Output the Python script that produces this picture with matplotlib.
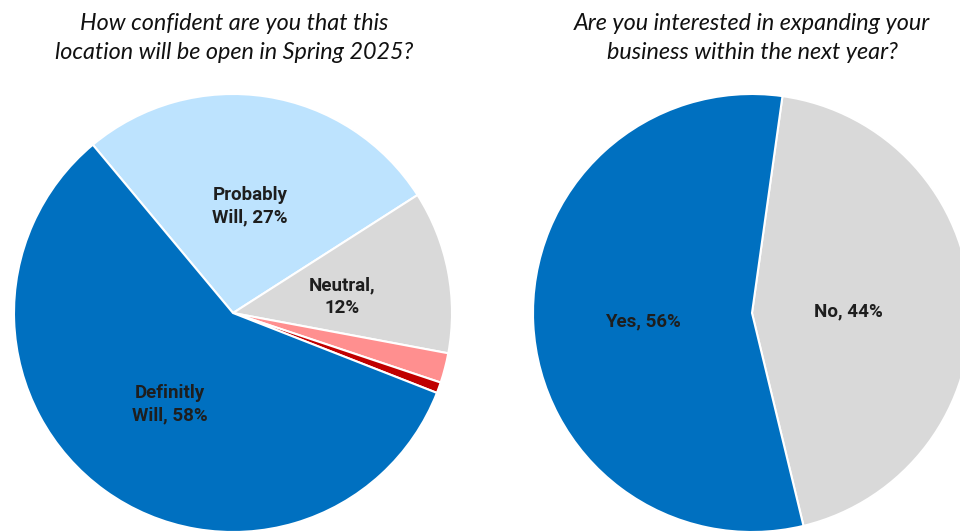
import matplotlib
matplotlib.use("Agg")
import matplotlib.pyplot as plt

# Survey question 1: confidence the location will be open
conf_labels = ["Probably\nWill, 27%", "Neutral,\n12%", "", "", "Definitly\nWill, 58%"]
conf_values = [27, 12, 2.2, 0.8, 58]
conf_colors = ["#BDE3FE", "#D9D9D9", "#FF8F8F", "#C00000", "#0070C0"]

# Survey question 2: interest in expanding
exp_labels = ["No, 44%", "Yes, 56%"]
exp_values = [44, 56]
exp_colors = ["#D9D9D9", "#0070C0"]

titles = ["How confident are you that this\nlocation will be open in Spring 2025?",
          "Are you interested in expanding your\nbusiness within the next year?"]

W, H = 960, 531
fig = plt.figure(figsize=(W / 100, H / 100), dpi=100)
ax = fig.add_axes([0, 0, 1, 1])

R = 219
c1 = (233, H - 313)
c2 = (752, H - 313)

wedge = dict(edgecolor="white", linewidth=1.5)
ax.pie(conf_values, colors=conf_colors, startangle=129.8, counterclock=False,
       center=c1, radius=R, wedgeprops=wedge, frame=True)
ax.pie(exp_values, colors=exp_colors, startangle=82, counterclock=False,
       center=c2, radius=R, wedgeprops=wedge, frame=True)
ax.set_xlim(0, W)
ax.set_ylim(0, H)
ax.set_aspect("equal")
ax.axis("off")

lab = dict(fontfamily="Roboto", fontweight="bold", fontsize=13.5, color="#1E1E1E",
           ha="center", va="center", linespacing=1.3)
label_pos1 = [(250, 206), (342, 297), None, None, (170, 404)]
for txt, pos in zip(conf_labels, label_pos1):
    if pos and txt:
        ax.text(pos[0], H - pos[1], txt, **lab)
label_pos2 = [(848, 311), (643, 321)]
for txt, pos in zip(exp_labels, label_pos2):
    ax.text(pos[0], H - pos[1], txt, **lab)

tt = dict(fontfamily="Lato", fontstyle="italic", fontsize=16.8, color="#111111",
          ha="center", va="center", linespacing=1.45)
ax.text(234, H - 38, titles[0], **tt)
ax.text(752, H - 38, titles[1], **tt)

fig.savefig("out.png", dpi=100)
